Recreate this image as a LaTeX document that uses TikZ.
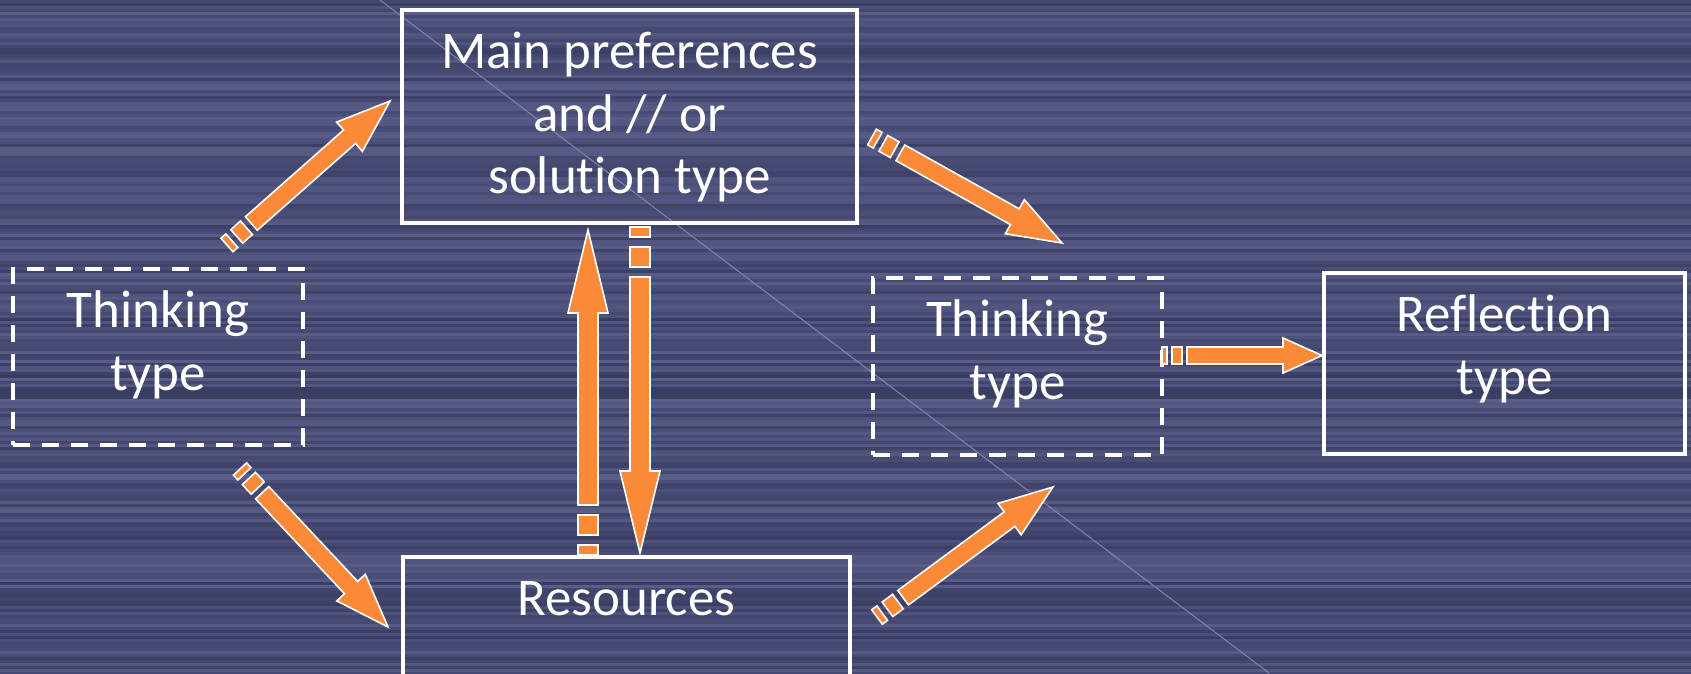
\documentclass[tikz,border=0pt]{standalone}
\usepackage{fontspec}
\setmainfont{Carlito}[RawFeature={-liga;-clig;-calt;-dlig}]
\usetikzlibrary{positioning,calc}
\definecolor{bgdark}{RGB}{50,53,88}
\definecolor{bglight}{RGB}{96,100,145}
\definecolor{bgline}{RGB}{128,132,175}
\definecolor{arroworange}{RGB}{250,138,55}
% strut so every box text starts at the same baseline
\newcommand\tp{\rule{0pt}{0.75em}}
% striped arrow: tail, tip, half shaft, half head, head length, stripe
\newcommand\stripedarrow[6]{%
  \filldraw[sarrow] ($(#1)!#3pt!90:(#2)$) -- ($(#1)!#6pt!(#2)!#3pt!90:(#2)$)
    -- ($(#1)!#6pt!(#2)!#3pt!270:(#2)$) -- ($(#1)!#3pt!270:(#2)$) -- cycle;
  \filldraw[sarrow] ($(#1)!2*#6pt!(#2)!#3pt!90:(#2)$) -- ($(#1)!4*#6pt!(#2)!#3pt!90:(#2)$)
    -- ($(#1)!4*#6pt!(#2)!#3pt!270:(#2)$) -- ($(#1)!2*#6pt!(#2)!#3pt!270:(#2)$) -- cycle;
  \filldraw[sarrow] ($(#1)!5*#6pt!(#2)!#3pt!90:(#2)$)
    -- ($(#2)!#5pt!(#1)!#3pt!270:(#1)$) -- ($(#2)!#5pt!(#1)!#4pt!270:(#1)$)
    -- (#2)
    -- ($(#2)!#5pt!(#1)!#4pt!90:(#1)$) -- ($(#2)!#5pt!(#1)!#3pt!90:(#1)$)
    -- ($(#1)!5*#6pt!(#2)!#3pt!270:(#2)$) -- cycle;
}

\begin{document}
\begin{tikzpicture}[x=1pt,y=-1pt,
  boxframe/.style={draw=white, line width=3.5pt, inner sep=0pt},
  dashframe/.style={boxframe, dash pattern=on 17pt off 12pt},
  boxtext/.style={text=white, align=center, inner sep=0pt,
    font=\fontsize{53pt}{62.5pt}\selectfont},
  sarrow/.style={fill=arroworange, draw=white, line width=1.6pt, line join=miter}
  ]
  % background
  \clip (0,0) rectangle (1691,673);
  \fill[bgdark!50!bglight] (0,0) rectangle (1691,673);
  \pgfmathsetseed{11}
  \foreach \i in {0,3,...,672}{
    \pgfmathtruncatemacro\mix{15+70*rnd}
    \fill[bgdark!\mix!bglight] (0,\i) rectangle (1691,\i+3);
  }
  \draw[bgline, line width=1pt] (380,0) -- (1269,673);

  % boxes
  \node[boxframe, minimum width=455pt, minimum height=213pt] (main) at (629.5,116.5) {};
  \node[boxtext, below=20.5pt of main.north] (main text) {\tp Main preferences\\and // or\\solution type};
  \node[dashframe, minimum width=290pt, minimum height=176pt] (think1) at (158,357) {};
  \node[boxtext, below=20.5pt of think1.north] (think1 text) {\tp Thinking\\type};
  \node[boxframe, minimum width=447pt, minimum height=200pt] (res) at (626.5,657) {};
  \node[boxtext, below=20.5pt of res.north] (res text) {\tp Resources};
  \node[dashframe, minimum width=289pt, minimum height=177pt] (think2) at (1017.5,366.5) {};
  \node[boxtext, below=20.5pt of think2.north] (think2 text) {\tp Thinking\\type};
  \node[boxframe, minimum width=361pt, minimum height=181pt] (refl) at (1504.5,363.5) {};
  \node[boxtext, below=20.5pt of refl.north] (refl text) {\tp Reflection\\type};

  % arrow ends
  \coordinate (a1s) at (227,245);   \coordinate (a1e) at (390,101);
  \coordinate (a2s) at (872,137);   \coordinate (a2e) at (1062,243);
  \coordinate (a3s) at (240,469);   \coordinate (a3e) at (388,627);
  \coordinate (a4s) at (877,617);   \coordinate (a4e) at (1053,487);
  \coordinate (downs) at (640,227); \coordinate (downe) at (640,553);
  \coordinate (ups) at (588,555);   \coordinate (upe) at (588,230);
  \coordinate (hs) at (1162,355.5); \coordinate (he) at (1322,355.5);

  % arrows
  \foreach \s/\e in {a1s/a1e, a2s/a2e, a3s/a3e, a4s/a4e}
    \stripedarrow{\s}{\e}{9}{19.5}{54}{6.5};
  \stripedarrow{downs}{downe}{10}{20}{82}{10}
  \stripedarrow{ups}{upe}{10}{20}{83}{10}
  \stripedarrow{hs}{he}{8.5}{17.5}{39}{5}
\end{tikzpicture}
\end{document}
